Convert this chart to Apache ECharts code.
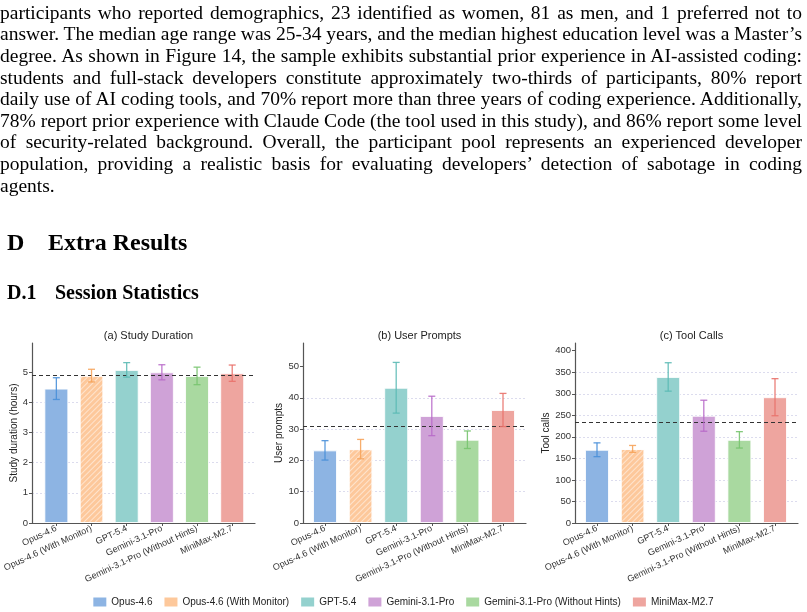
<!DOCTYPE html>
<html>
<head>
<meta charset="utf-8">
<script src="https://cdn.jsdelivr.net/npm/echarts@6/dist/echarts.min.js"></script>
<style>
  html, body { margin: 0; padding: 0; background: #fff; }
  #page { position: relative; width: 807px; height: 612px; overflow: hidden; background: #fff; }
  .serif { font-family: "Liberation Serif", "Times New Roman", serif; color: #000; position: absolute; white-space: pre; line-height: 1; }
  .pline { font-size: 19.5px; left: 0; }
  #chart { position: absolute; left: 0; top: 0; width: 807px; height: 612px; }
</style>
</head>
<body>
<div id="page">
  <div id="chart"></div>
  <div id="text"></div>
  <div class="serif" style="font-size:24px;font-weight:bold;left:7px;top:230px;">D</div>
  <div class="serif" style="font-size:24px;font-weight:bold;left:48px;top:230px;">Extra Results</div>
  <div class="serif" style="font-size:20px;font-weight:bold;left:7px;top:282px;">D.1</div>
  <div class="serif" style="font-size:20px;font-weight:bold;left:55px;top:282px;">Session Statistics</div>
</div>
<script>
// ---------- page text ----------
const paragraphLines = [
  "participants who reported demographics, 23 identified as women, 81 as men, and 1 preferred not to",
  "answer. The median age range was 25-34 years, and the median highest education level was a Master\u2019s",
  "degree. As shown in Figure 14, the sample exhibits substantial prior experience in AI-assisted coding:",
  "students and full-stack developers constitute approximately two-thirds of participants, 80% report",
  "daily use of AI coding tools, and 70% report more than three years of coding experience. Additionally,",
  "78% report prior experience with Claude Code (the tool used in this study), and 86% report some level",
  "of security-related background. Overall, the participant pool represents an experienced developer",
  "population, providing a realistic basis for evaluating developers\u2019 detection of sabotage in coding",
  "agents."
];

// ---------- chart data ----------
const categories = ['Opus-4.6', 'Opus-4.6 (With Monitor)', 'GPT-5.4', 'Gemini-3.1-Pro', 'Gemini-3.1-Pro (Without Hints)', 'MiniMax-M2.7'];

const durationMean = [4.45, 4.88, 5.07, 4.99, 4.87, 4.96];
const durationErr  = [0.36, 0.21, 0.24, 0.25, 0.29, 0.27];
const durationOverall = 4.88;
const durationTicks = [0, 1, 2, 3, 4, 5];

const promptsMean = [23.2, 23.6, 43.2, 34.2, 26.6, 36.1];
const promptsErr  = [3.1, 3.1, 8.1, 6.3, 2.8, 5.3];
const promptsOverall = 31.0;
const promptsTicks = [0, 10, 20, 30, 40, 50];

const toolMean = [170, 172, 339, 249, 193, 292];
const toolErr  = [16, 8, 33, 36, 19, 43];
const toolOverall = 234.5;
const toolTicks = [0, 50, 100, 150, 200, 250, 300, 350, 400];

const panelTitles = ['(a) Study Duration', '(b) User Prompts', '(c) Tool Calls'];
const panelYNames = ['Study duration (hours)', 'User prompts', 'Tool calls'];

// ---------- layout the paragraph ----------
(function () {
  const host = document.getElementById('text');
  const W = 802;
  paragraphLines.forEach((t, i) => {
    const d = document.createElement('div');
    d.className = 'serif pline';
    d.style.top = (2.7 + 21.6 * i) + 'px';
    d.textContent = t;
    host.appendChild(d);
    if (i < paragraphLines.length - 1) {
      const w = d.getBoundingClientRect().width;
      const spaces = (t.match(/ /g) || []).length;
      if (spaces) d.style.wordSpacing = ((W - w) / spaces) + 'px';
    }
  });
})();

// ---------- chart ----------
const FONT = '"Liberation Sans", Arial, Helvetica, sans-serif';
const barColors = ['#8db4e3', '#fdc89b', '#94d1ce', '#cfa2d7', '#a9d9a0', '#eea59f'];
const errColors = ['#4a90d9', '#f6a45c', '#5cbab5', '#b86ac9', '#78c46f', '#e9726b'];

const panels = [
  { mean: durationMean, err: durationErr, overall: durationOverall, ticks: durationTicks, max: 5.96, frameLeft: 32, nameGap: 13 },
  { mean: promptsMean, err: promptsErr, overall: promptsOverall, ticks: promptsTicks, max: 57.5, frameLeft: 303, nameGap: 16 },
  { mean: toolMean, err: toolErr, overall: toolOverall, ticks: toolTicks, max: 417.8, frameLeft: 575, nameGap: 22 }
];

const TOP = 343, HEIGHT = 180, FRAME_W = 223, BAR_INSET = 4.2, BAR_W = 213.6;

const grid = [], xAxis = [], yAxis = [], series = [], title = [];

panels.forEach((p, k) => {
  const frameIdx = 2 * k, barIdx = 2 * k + 1;
  const interval = p.ticks[1] - p.ticks[0];
  grid.push({ left: p.frameLeft, top: TOP, width: FRAME_W, height: HEIGHT, containLabel: false });
  grid.push({ left: p.frameLeft + BAR_INSET, top: TOP, width: BAR_W, height: HEIGHT, containLabel: false });

  title.push({
    text: panelTitles[k],
    left: p.frameLeft + FRAME_W / 2, top: 325, textAlign: 'center',
    textStyle: { fontFamily: FONT, fontSize: 11, fontWeight: 'normal', color: '#222' }
  });

  xAxis.push({
    gridIndex: frameIdx, type: 'value', min: 0, max: 1,
    axisLine: { show: true, lineStyle: { color: '#555', width: 1.2 } },
    axisTick: { show: false }, axisLabel: { show: false }, splitLine: { show: false }
  });
  xAxis.push({
    gridIndex: barIdx, type: 'category', data: categories,
    axisLine: { show: false },
    axisTick: { show: true, alignWithLabel: true, length: 3, lineStyle: { color: '#555', width: 1 } },
    axisLabel: { interval: 0, rotate: 25, fontSize: 9, color: '#333', fontFamily: FONT, margin: 5 },
    splitLine: { show: false }
  });

  yAxis.push({
    gridIndex: frameIdx, type: 'value', min: 0, max: p.max, interval: interval,
    name: panelYNames[k], nameLocation: 'middle', nameGap: p.nameGap, nameRotate: 90,
    nameTextStyle: { fontFamily: FONT, fontSize: 10, color: '#222' },
    axisLine: { show: true, lineStyle: { color: '#555', width: 1.2 } },
    axisTick: { show: true, length: 3, customValues: p.ticks, lineStyle: { color: '#555' } },
    axisLabel: { fontFamily: FONT, fontSize: 9.5, color: '#333', margin: 4, customValues: p.ticks },
    splitLine: { show: true, showMinLine: false, showMaxLine: false, lineStyle: { color: '#dcdcee', type: [2, 2], width: 1 } }
  });
  yAxis.push({
    gridIndex: barIdx, type: 'value', min: 0, max: p.max, show: false,
    splitLine: { show: false }
  });

  categories.forEach((name, m) => {
    const item = { color: barColors[m], borderColor: 'rgba(255,255,255,0.85)', borderWidth: 1 };
    if (m === 1) {
      item.decal = {
        symbol: 'rect', symbolSize: 1,
        dashArrayX: [[1, 0]], dashArrayY: [1, 2.4],
        rotation: -Math.PI / 4,
        color: 'rgba(255,255,255,0.5)'
      };
    }
    series.push({
      type: 'bar', name: name,
      xAxisIndex: barIdx, yAxisIndex: barIdx,
      stack: 'panel' + k, barWidth: 24, z: 2,
      itemStyle: item,
      emphasis: { disabled: true },
      data: categories.map((c, i) => (i === m ? p.mean[i] : '-'))
    });
  });

  series.push({
    type: 'custom', name: 'err' + k,
    xAxisIndex: barIdx, yAxisIndex: barIdx, z: 6,
    data: p.mean.map((v, i) => [i, v - p.err[i], v + p.err[i]]),
    renderItem: function (params, api) {
      const lo = api.coord([api.value(0), api.value(1)]);
      const hi = api.coord([api.value(0), api.value(2)]);
      const c = errColors[params.dataIndex];
      const half = 3.5;
      const st = { stroke: c, lineWidth: 1.3, opacity: 0.9 };
      return {
        type: 'group',
        children: [
          { type: 'line', shape: { x1: lo[0], y1: lo[1], x2: hi[0], y2: hi[1] }, style: st },
          { type: 'line', shape: { x1: lo[0] - half, y1: lo[1], x2: lo[0] + half, y2: lo[1] }, style: st },
          { type: 'line', shape: { x1: hi[0] - half, y1: hi[1], x2: hi[0] + half, y2: hi[1] }, style: st }
        ]
      };
    }
  });

  series.push({
    type: 'scatter', name: 'mean' + k,
    xAxisIndex: frameIdx, yAxisIndex: frameIdx, z: 8,
    data: [],
    markLine: {
      silent: true, symbol: 'none', label: { show: false },
      lineStyle: { type: [4, 3], color: '#333', width: 1.2 },
      data: [{ yAxis: p.overall }]
    }
  });
});

const chart = echarts.init(document.getElementById('chart'), null, { renderer: 'canvas' });
chart.setOption({
  animation: false,
  backgroundColor: 'transparent',
  textStyle: { fontFamily: FONT },
  title: title,
  grid: grid,
  xAxis: xAxis,
  yAxis: yAxis,
  legend: {
    data: categories.map((c, i) => ({ name: c, itemStyle: { color: barColors[i], decal: 'none', borderWidth: 0 } })),
    left: 'center', top: 592,
    icon: 'rect', itemWidth: 13, itemHeight: 9, itemGap: 12,
    textStyle: { fontFamily: FONT, fontSize: 10, color: '#222' },
    selectedMode: false
  },
  series: series
});
</script>
</body>
</html>
